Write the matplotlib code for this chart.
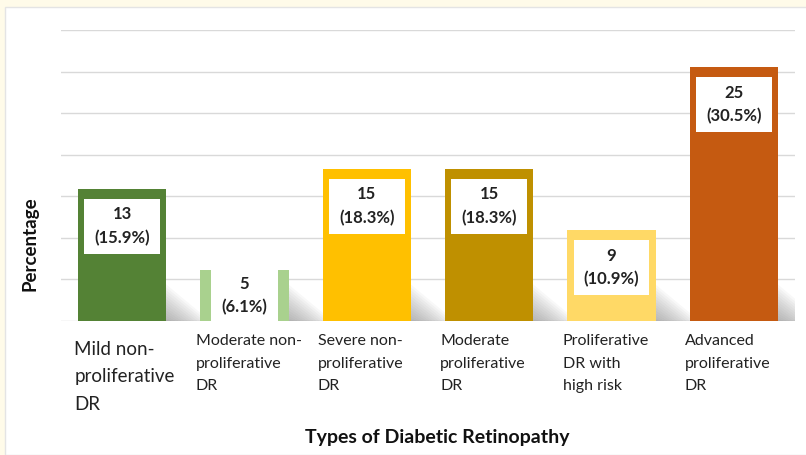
import matplotlib.pyplot as plt
from matplotlib.patches import Rectangle, Polygon

categories = ["Mild non-\nproliferative\nDR", "Moderate non-\nproliferative\nDR",
              "Severe non-\nproliferative\nDR", "Moderate\nproliferative\nDR",
              "Proliferative\nDR with\nhigh risk", "Advanced\nproliferative\nDR"]
counts = [13, 5, 15, 15, 9, 25]
percents = [15.9, 6.1, 18.3, 18.3, 10.9, 30.5]
colors = ["#548235", "#A9D18E", "#FFC000", "#BF9000", "#FFD966", "#C55A11"]

plt.rcParams['font.family'] = ['Lato', 'DejaVu Sans']

fig = plt.figure(figsize=(8.06, 4.55), dpi=100, facecolor="#FFFBE9")
# white panel
fig.patches.append(Rectangle((5 / 806, 0), 1, 448 / 455, transform=fig.transFigure,
                             facecolor="white", edgecolor="#E4E4E4", lw=1, zorder=-10))

ax = fig.add_axes([61 / 806, 1 - 321 / 455, 734 / 806, 291 / 455])
ax.set_facecolor("none")
ax.set_xlim(-0.5, 5.5)
ax.set_ylim(0, 35)
ax.set_yticks(range(0, 36, 5))
ax.yaxis.grid(True, color="#D9D9D9", lw=1)
ax.set_axisbelow(True)
ax.tick_params(length=0, labelleft=False, labelbottom=False)
for s in ax.spines.values():
    s.set_visible(False)

w = 0.72
# soft shadows behind bars
for i, p in enumerate(percents):
    x0 = i + w / 2
    for k in range(14):
        f = (k + 1) / 14
        ax.add_patch(Polygon([(x0 - 0.05, 0), (x0 - 0.05, 5.0 * f),
                              (x0 + 0.36 * f, 0)], closed=True,
                             facecolor="#7a7a7a", alpha=0.05, lw=0, zorder=1))

bars = ax.bar(range(len(percents)), percents, width=w, color=colors, zorder=2)

for i, (c, p) in enumerate(zip(counts, percents)):
    if p < 8:
        bw, y0, y1 = 0.54, 0, p
    else:
        bw, y1 = 0.62, p - 1.2
        y0 = y1 - 6.6
    ax.add_patch(Rectangle((i - bw / 2, y0), bw, y1 - y0, facecolor="white",
                           edgecolor="none", zorder=3))
    ax.text(i, (y0 + y1) / 2, f"{c}\n({p}%)", ha="center", va="center",
            fontsize=12, fontweight="bold", color="#222222", linespacing=1.55, zorder=4)

for i, lab in enumerate(categories):
    fs = 13.5 if i == 0 else 11.5
    ax.text(i - w / 2 - (0.03 if i == 0 else 0.04), -1.6 if i else -2.4, lab,
            ha="left", va="top", fontsize=fs, color="#222222", linespacing=1.75)

fig.text(30 / 806, 1 - 244 / 455, "Percentage", rotation=90, ha="center", va="center",
         fontsize=13.5, fontweight="bold", color="#111111")
fig.text(437 / 806, 1 - 437 / 455, "Types of Diabetic Retinopathy", ha="center",
         va="center", fontsize=14, fontweight="bold", color="#111111")

fig.savefig("out.png", dpi=100, facecolor=fig.get_facecolor())
